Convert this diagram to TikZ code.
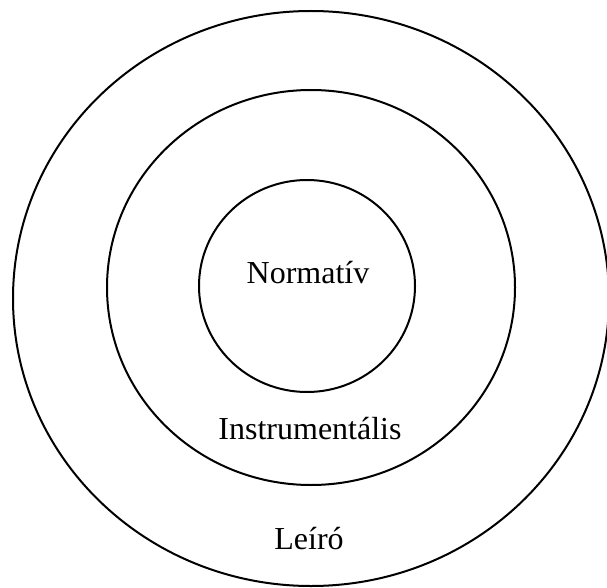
\documentclass[tikz,border=0pt]{standalone}
\usepackage{fontspec}
\setmainfont{Liberation Serif}
\usetikzlibrary{shapes.geometric}
\begin{document}
\begin{tikzpicture}[x=1pt,y=-1pt,
  ring/.style={draw=black,line width=2pt,ellipse,inner sep=0pt,fill=none},
  lbl/.style={anchor=base,inner sep=0pt,font=\fontsize{32}{38}\selectfont}]
\useasboundingbox (0,0) rectangle (607,588);
\node[ring,minimum width=596pt,minimum height=575pt] (outer) at (311,298.5) {};
\node[ring,minimum width=408pt,minimum height=395pt] (middle) at (311,287.5) {};
\node[ring,minimum width=216pt,minimum height=212pt] (inner) at (307,286) {};
\node[lbl] (norm) at (308,283) {Normatív};
\node[lbl] (instr) at (310,439) {Instrumentális};
\node[lbl] (leiro) at (309,549) {Leíró};
\end{tikzpicture}
\end{document}
